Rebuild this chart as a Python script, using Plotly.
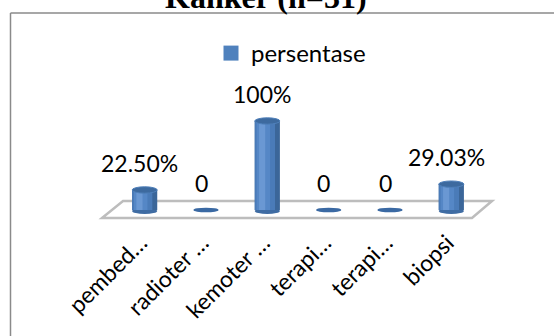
import plotly.graph_objects as go

# ---- data ----
categories = ["pembed…", "radioter …", "kemoter …", "terapi…", "terapi…", "biopsi"]
values = [22.50, 0, 100, 0, 0, 29.03]
value_labels = ["22.50%", "0", "100%", "0", "0", "29.03%"]
series_name = "persentase"
title_text = "Kanker (n=31)"

# ---- geometry helpers ----
W, H = 554, 336
ML, MR, MT, MB = 114, 72, 94, 116
PW, PH = W - ML - MR, H - MT - MB
Y0PX, SCALE = 210, 0.89          # pixel of value 0, px per unit
YMAX = (Y0PX - MT) / SCALE
YMIN = -(MT + PH - Y0PX) / SCALE

def px_x(px):
    return (px - ML) / PW

def px_y(py):
    return (MT + PH - py) / PH

def hy(p):    # pixel height -> data units
    return p / SCALE

xs = list(range(len(categories)))
FONT = "Lato"

fig = go.Figure()
bw = 0.41
layers = [  # (width, offset from left edge, colour)
    (bw, 0.0, "#3B6699"),
    (0.33, 0.0, "#4A7BB8"),
    (0.22, 0.03, "#5587C6"),
    (0.10, 0.07, "#6A98D3"),
]
for w, off, col in layers:
    fig.add_trace(go.Bar(x=xs, y=values, width=w, offset=-bw / 2 + off,
                         marker=dict(color=col, line=dict(width=0)),
                         showlegend=False, hoverinfo="skip"))
# legend entry
fig.add_trace(go.Scatter(x=[None], y=[None], mode="markers", name=series_name,
                         marker=dict(symbol="square", size=15, color="#4F81BD")))

shapes = []
# frame
shapes.append(dict(type="line", xref="paper", yref="paper",
                   x0=px_x(10.5), x1=px_x(W + 5), y0=px_y(13), y1=px_y(13),
                   line=dict(color="#8A8A8A", width=1.5)))
shapes.append(dict(type="line", xref="paper", yref="paper",
                   x0=px_x(10.5), x1=px_x(10.5), y0=px_y(13), y1=px_y(H + 5),
                   line=dict(color="#8A8A8A", width=1.5)))
# floor (paper refs so it is not clipped to the plot area)
floor = [(123, 201), (492, 201), (472, 218), (102, 218)]
path = "M " + " L ".join(f"{px_x(a):.4f},{px_y(b):.4f}" for a, b in floor) + " Z"
shapes.append(dict(type="path", xref="paper", yref="paper", path=path, layer="below",
                   fillcolor="white", line=dict(color="#BDBDBD", width=2.5)))
for i, v in zip(xs, values):
    if v > 0:
        # rounded bottom of cylinder
        shapes.append(dict(type="circle", xref="x", yref="y", layer="below",
                           x0=i - bw / 2, x1=i + bw / 2, y0=-hy(4), y1=hy(2),
                           fillcolor="#3F6CA3", line=dict(width=0)))
        # top of cylinder
        shapes.append(dict(type="circle", xref="x", yref="y", layer="above",
                           x0=i - bw / 2, x1=i + bw / 2, y0=v - hy(3.2), y1=v + hy(3.2),
                           fillcolor="#3D6A9F", line=dict(color="#4F80BA", width=1)))
    else:
        # flat disc for zero values
        shapes.append(dict(type="circle", xref="x", yref="y", layer="above",
                           x0=i - bw / 2, x1=i + bw / 2, y0=v - hy(2.3), y1=v + hy(2.3),
                           fillcolor="#3A69A3", line=dict(width=0)))

annotations = []
for i, v, t in zip(xs, values, value_labels):
    annotations.append(dict(x=i, y=v, xref="x", yref="y", text=t, showarrow=False,
                            xanchor="center", yanchor="bottom", xshift=-5, yshift=11,
                            font=dict(family=FONT, size=23, color="black")))
annotations.append(dict(x=px_x(266), y=px_y(17), xref="paper", yref="paper",
                        text=f"<b>{title_text}</b>", showarrow=False,
                        xanchor="center", yanchor="bottom",
                        font=dict(family="Liberation Serif", size=32, color="black")))

fig.update_layout(
    width=W, height=H,
    margin=dict(l=ML, r=MR, t=MT, b=MB),
    paper_bgcolor="white", plot_bgcolor="rgba(0,0,0,0)",
    barmode="overlay",
    shapes=shapes, annotations=annotations,
    showlegend=True,
    legend=dict(x=px_x(211), y=px_y(31), xanchor="left", yanchor="top",
                font=dict(family=FONT, size=24, color="black"),
                bgcolor="rgba(0,0,0,0)"),
    xaxis=dict(range=[-0.5, 5.5], tickmode="array", tickvals=xs, ticktext=categories,
               tickangle=-45, showgrid=False, zeroline=False, showline=False,
               ticks="", tickfont=dict(family=FONT, size=23, color="black"),
               ticklabelshift=-4, ticklabelstandoff=4,
               fixedrange=True),
    yaxis=dict(range=[YMIN, YMAX], showgrid=False, zeroline=False, showline=False,
               showticklabels=False, ticks="", fixedrange=True),
)

fig.write_html("out.html", config={"displayModeBar": False})
